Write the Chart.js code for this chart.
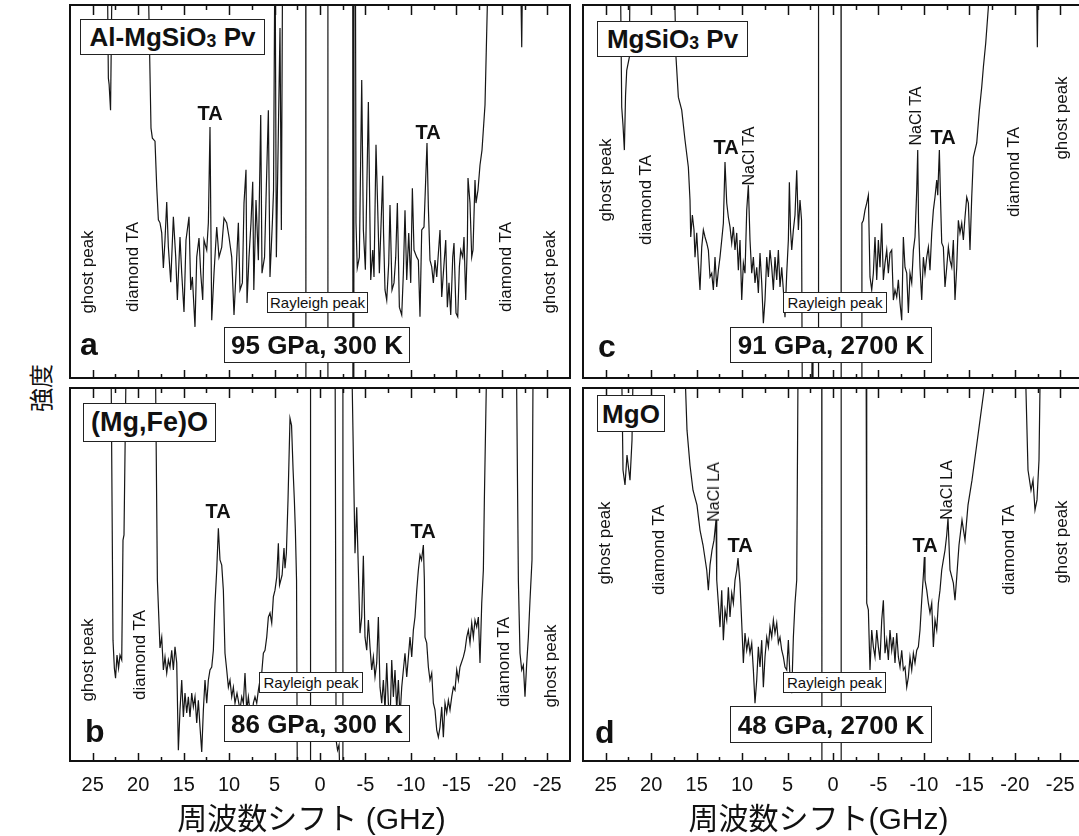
<!DOCTYPE html>
<html><head><meta charset="utf-8">
<script src="https://cdn.jsdelivr.net/npm/chart.js@4.4.1/dist/chart.umd.min.js"></script>
<style>
html,body{margin:0;padding:0;background:#fff;width:1079px;height:836px;overflow:hidden;position:relative;font-family:"Liberation Sans",Arial,sans-serif;color:#111}
canvas{position:absolute}
.box{position:absolute;background:#fff;border:1.5px solid #222;box-sizing:border-box;display:flex;align-items:center;justify-content:center;white-space:nowrap;font-weight:bold;font-size:26px;line-height:1}
.box sub{font-size:0.68em;vertical-align:-0.06em;line-height:0}
.ray{font-weight:normal;font-size:15px;border:1px solid #222}
.rot{position:absolute;white-space:nowrap;transform:translate(-50%,-50%) rotate(-90deg);font-size:17px;line-height:1}
.ta{position:absolute;transform:translate(-50%,-50%);font-weight:bold;font-size:20px;line-height:1;white-space:nowrap}
.let{position:absolute;font-weight:bold;font-size:32px;line-height:1}
.ytitle{position:absolute;left:40px;top:388px;transform:translate(-50%,-50%) rotate(-90deg);font-family:"Noto Sans CJK JP",sans-serif;font-size:24px;line-height:1;white-space:nowrap}
</style></head>
<body>
<canvas id="ca" width="520" height="385" style="left:60px;top:0"></canvas>
<canvas id="cc" width="520" height="385" style="left:573px;top:0"></canvas>
<canvas id="cb" width="520" height="453" style="left:60px;top:383px"></canvas>
<canvas id="cd" width="520" height="453" style="left:573px;top:383px"></canvas>

<div class="ytitle">強度</div>

<!-- panel a -->
<div class="box" style="left:80px;top:19px;width:185px;height:36px"><span>Al-MgSiO<sub>3</sub> Pv</span></div>
<div class="box ray" style="left:267px;top:292px;width:101px;height:21px">Rayleigh peak</div>
<div class="box" style="left:224px;top:327px;width:186px;height:36px">95 GPa, 300 K</div>
<div class="let" style="left:80px;top:328px">a</div>
<div class="ta" style="left:210px;top:113px">TA</div>
<div class="ta" style="left:428px;top:132px">TA</div>
<div class="rot" style="left:87px;top:272px">ghost peak</div>
<div class="rot" style="left:132px;top:267px">diamond TA</div>
<div class="rot" style="left:505px;top:267px">diamond TA</div>
<div class="rot" style="left:549px;top:272px">ghost peak</div>

<!-- panel b -->
<div class="box" style="left:83px;top:403px;width:133px;height:39px;font-size:27px">(Mg,Fe)O</div>
<div class="box ray" style="left:259px;top:672px;width:104px;height:21px">Rayleigh peak</div>
<div class="box" style="left:224px;top:705px;width:186px;height:37px">86 GPa, 300 K</div>
<div class="let" style="left:85px;top:715px">b</div>
<div class="ta" style="left:218px;top:511px">TA</div>
<div class="ta" style="left:423px;top:531px">TA</div>
<div class="rot" style="left:87px;top:660px">ghost peak</div>
<div class="rot" style="left:139px;top:655px">diamond TA</div>
<div class="rot" style="left:503px;top:662px">diamond TA</div>
<div class="rot" style="left:550px;top:666px">ghost peak</div>

<!-- panel c -->
<div class="box" style="left:597px;top:21px;width:151px;height:36px"><span>MgSiO<sub>3</sub> Pv</span></div>
<div class="box ray" style="left:783px;top:292px;width:104px;height:21px">Rayleigh peak</div>
<div class="box" style="left:730px;top:327px;width:202px;height:36px">91 GPa, 2700 K</div>
<div class="let" style="left:598px;top:330px">c</div>
<div class="ta" style="left:726px;top:147px">TA</div>
<div class="ta" style="left:943px;top:137px">TA</div>
<div class="rot" style="left:749px;top:156px;font-size:16px">NaCl TA</div>
<div class="rot" style="left:916px;top:116px;font-size:16px">NaCl TA</div>
<div class="rot" style="left:605px;top:180px">ghost peak</div>
<div class="rot" style="left:645px;top:200px">diamond TA</div>
<div class="rot" style="left:1013px;top:172px">diamond TA</div>
<div class="rot" style="left:1061px;top:118px">ghost peak</div>

<!-- panel d -->
<div class="box" style="left:597px;top:395px;width:68px;height:37px">MgO</div>
<div class="box ray" style="left:783px;top:672px;width:103px;height:21px">Rayleigh peak</div>
<div class="box" style="left:730px;top:706px;width:202px;height:37px">48 GPa, 2700 K</div>
<div class="let" style="left:595px;top:716px">d</div>
<div class="ta" style="left:740px;top:545px">TA</div>
<div class="ta" style="left:925px;top:545px">TA</div>
<div class="rot" style="left:714px;top:492px;font-size:16px">NaCl LA</div>
<div class="rot" style="left:947px;top:490px;font-size:16px">NaCl LA</div>
<div class="rot" style="left:604px;top:543px">ghost peak</div>
<div class="rot" style="left:658px;top:550px">diamond TA</div>
<div class="rot" style="left:1008px;top:550px">diamond TA</div>
<div class="rot" style="left:1061px;top:542px">ghost peak</div>

<script>
// ---------- axis ticks ----------
const xTickLabels = [25, 20, 15, 10, 5, 0, -5, -10, -15, -20, -25];
const xMinorTicks = [22.5, 17.5, 12.5, 7.5, 2.5, -2.5, -7.5, -12.5, -17.5, -22.5];
const xRange = [-27.5, 27.5];
const titleLeft = "周波数シフト (GHz)";
const titleRight = "周波数シフト(GHz)";

// ---------- panel a : Al-MgSiO3 Pv, 95 GPa 300 K ----------
const aFreq = [27.5,23.43,23.28,23.2,23.04,22.82,18.99,18.59,18.44,18.15,17.96,17.78,17.6,17.41,17.23,17.05,16.86,16.68,16.42,16.13,15.87,15.69,15.4,15.21,14.96,14.74,14.41,14.22,14.04,13.75,13.56,13.31,13.12,12.9,12.76,12.46,12.28,12.1,11.91,11.66,11.36,11.11,10.81,10.56,10.26,10.01,9.71,9.46,9.24,8.98,8.8,8.54,8.36,8.14,8.03,7.81,7.59,7.4,7.28,7.04,6.78,6.52,6.38,6.1,5.94,5.68,5.5,5.24,5.11,4.95,4.8,4.4,4.25,4.1,1.57,1.55,-0.85,-0.87,-3.6,-3.62,-3.72,-3.74,-3.89,-3.96,-4.1,-4.33,-4.59,-4.77,-4.99,-5.32,-5.58,-5.8,-5.94,-6.16,-6.38,-6.53,-6.9,-6.99,-7.15,-7.34,-7.56,-7.7,-7.92,-8.14,-8.33,-8.51,-8.73,-8.99,-9.17,-9.35,-9.54,-9.76,-9.98,-10.16,-10.34,-10.64,-10.82,-11,-11.19,-11.44,-11.77,-11.92,-12.1,-12.29,-12.47,-12.65,-12.84,-13.2,-13.39,-13.57,-13.83,-14.01,-14.19,-14.38,-14.6,-14.74,-14.96,-15.15,-15.33,-15.48,-15.7,-15.84,-16.03,-16.21,-16.28,-16.5,-16.69,-16.83,-17.05,-17.16,-17.38,-17.6,-17.82,-18.15,-18.6,-22,-22.19,-22.33,-27.5];
const aInt = [120,120,80.4,78.8,71.8,120,120,67,64.3,63.5,51.2,42.4,41.6,38.9,29.5,37,47.2,35.1,25.7,43.2,32.4,20.9,37.8,28.1,17.7,37,43.2,23.6,27.1,13.7,32.4,37.5,28.1,20.9,37,34.3,41.6,67.3,15.5,28.1,40.5,32.4,35.1,42.9,41.6,37.8,32.4,16.9,28.1,41.6,23.6,25.5,46.9,55.8,20.1,32.4,41.6,52.6,23.6,47.7,31.6,70.5,28.1,32.4,47.7,71.8,27.1,41.6,50.4,120,32.4,93.8,39.7,120,120,-10,-10,120,120,-10,-10,120,120,41.6,29.5,32.4,79.9,39.7,29,74,26.3,34.3,27.1,62.5,42.4,28.1,54.2,38.9,23.6,20.9,30.8,46.4,23.6,25.5,32.4,46.9,19,16.9,28.1,45,26.3,38.9,25.5,50.9,34.3,32.4,31.6,16.4,39.7,40.5,63,45.8,31.6,29.8,25.5,31.6,27.1,39.7,21.7,28.1,37,19,25.5,16.9,32.4,36.2,17.4,16.4,29.8,34.3,32.4,37.8,20.9,36.2,53.6,46.9,32.4,34.3,53.1,46.9,50.4,57.1,61.1,73.2,120,120,88.7,120,120];

// ---------- panel b : (Mg,Fe)O, 86 GPa 300 K ----------
const bFreq = [27.5,23.02,22.77,22.62,22.49,22.33,22.16,22,21.81,21.67,21.56,21.26,18.15,17.89,17.6,17.41,17.23,17.05,16.86,16.68,16.5,16.31,16.13,15.95,15.76,15.58,15.4,15.21,15.03,14.85,14.66,14.48,14.3,14.11,13.93,13.75,13.56,13.38,13.2,13.01,12.83,12.65,12.46,12.28,12.1,11.91,11.73,11.55,11.36,11.18,11,10.81,10.63,10.45,10.26,10.08,9.9,9.71,9.53,9.35,9.13,8.8,8.61,8.43,8.25,8.06,7.88,7.51,7.33,7.15,6.96,6.78,6.6,6.41,6.23,6.05,5.86,5.68,5.5,5.31,5.13,4.95,4.76,4.58,4.45,4.17,3.96,3.85,3.7,3.52,3.3,3.13,2.96,2.82,2.71,2.58,2.49,1.06,1.04,-1.65,-1.77,-1.93,-2.09,-2.26,-2.5,-2.52,-3.41,-3.85,-4.04,-4.22,-4.4,-4.59,-4.77,-4.95,-5.14,-5.32,-5.5,-5.69,-5.87,-6.05,-6.24,-6.42,-6.6,-6.79,-6.97,-7.15,-7.34,-7.52,-7.7,-7.89,-8.07,-8.25,-8.44,-8.62,-8.8,-8.99,-9.17,-9.35,-9.54,-9.72,-9.9,-10.09,-10.27,-10.45,-10.64,-10.82,-11,-11.17,-11.37,-11.48,-11.55,-11.74,-11.92,-12.1,-12.29,-12.47,-12.65,-12.84,-13.02,-13.2,-13.39,-13.57,-13.75,-13.94,-14.12,-14.3,-14.49,-14.67,-14.85,-15.04,-15.22,-15.4,-15.77,-15.95,-16.14,-16.32,-16.5,-16.69,-16.87,-17.05,-17.24,-17.42,-17.6,-17.79,-17.97,-18.08,-18.43,-21.56,-21.82,-22,-22.19,-22.37,-22.55,-22.74,-22.92,-23.1,-23.32,-23.47,-27.5];
const bInt = [120,120,32.4,24.9,22.2,28.4,24.9,28.4,27.1,59.2,60.6,120,120,48.5,30.3,33.2,24.4,27.9,23.6,27.1,25.2,29.7,24.4,30.6,26.3,2.9,13.7,21.7,11.8,18.2,12.9,17.2,11.8,18.2,14.5,17.2,10.2,16.3,9.1,2.4,13.7,21.7,15.5,21.7,24.4,25.2,29.7,42.3,51.2,62.4,53.9,52.5,45.8,28.9,24.4,19.8,21.7,17.2,19.8,15.5,18.2,13.7,17.2,15.5,23.6,13.7,17.2,9.1,15.5,17.2,15.5,19,21.7,23.6,28.9,29.7,33.2,38.6,39.7,37,44,45.8,49.3,58.4,47.2,49.8,57.1,51.7,55.7,69.9,91.9,90,78,69.9,61.9,48.5,-10,-10,120,120,5.6,2.9,4.3,-10,-10,120,120,55.7,68,51.2,34.3,38.6,55,33.2,29.7,37.8,30.6,24.4,27.9,22.5,26.3,38.6,19.8,15.5,21.7,13.7,26.3,15.5,10.2,27.1,17.2,24.4,13.7,21.7,11.8,19.8,24.4,28.9,22.5,27.9,33.2,27.9,35.1,38.6,45.8,51.2,55.2,53.9,57.9,48.5,33.2,31.6,25.2,21.7,23.6,15.5,13.7,8.3,6.4,9.1,14.5,6.4,15.5,12.9,16.3,13.7,17.2,19.8,19,24.4,21.7,25.2,27.9,29.7,33.2,35.1,31.6,37,33.2,37.8,35.9,38.6,26.3,42.3,51.2,70,120,120,48.5,28.9,24.4,25.7,17.2,26.3,33.2,43.1,53.9,120,120];

// ---------- panel c : MgSiO3 Pv, 91 GPa 2700 K ----------
const cFreq = [27.5,23.43,23.24,23.1,22.95,22.82,22.69,22.4,22.29,17.56,17.27,17.01,16.64,16.28,15.91,15.73,15.65,15.47,15.29,15.18,14.99,14.81,14.63,14.44,14.26,14.08,13.89,13.71,13.53,13.34,13.16,12.98,12.79,12.61,12.43,12.24,12.06,11.88,11.69,11.51,11.33,11.14,10.96,10.78,10.59,10.41,10.23,10.04,9.86,9.68,9.49,9.31,9.13,8.94,8.76,8.58,8.39,8.21,8.03,7.84,7.66,7.48,7.29,7.11,6.93,6.74,6.56,6.38,6.19,6.01,5.83,5.64,5.46,5.28,5.09,4.91,4.8,4.67,4.54,4.36,4.18,3.99,3.81,3.63,3.46,3.37,2.36,2.31,2.2,1.61,1.59,-0.88,-0.9,-3.16,-3.18,-3.34,-3.52,-3.71,-3.89,-4.07,-4.26,-4.44,-4.62,-4.81,-4.99,-5.17,-5.36,-5.54,-5.72,-5.91,-6.09,-6.27,-6.46,-6.64,-6.82,-7.01,-7.19,-7.37,-7.56,-7.74,-7.92,-8.11,-8.29,-8.47,-8.66,-8.84,-9.02,-9.21,-9.32,-9.41,-9.57,-9.76,-9.94,-10.12,-10.31,-10.49,-10.67,-10.86,-11.04,-11.22,-11.41,-11.52,-11.7,-11.83,-11.96,-12.14,-12.32,-12.51,-12.69,-12.87,-13.06,-13.24,-13.42,-13.61,-13.79,-13.97,-14.16,-14.34,-14.52,-14.71,-14.89,-15.07,-15.26,-15.44,-15.81,-16.1,-16.36,-16.54,-16.8,-17.09,-17.27,-22.33,-22.48,-22.61,-27.5];
const cInt = [120,120,72.6,67.8,61.1,75.8,82.5,86,120,120,86,75.3,71.8,63.8,56.5,47.7,37.8,43.7,39.7,32.4,38.9,30.8,23.6,35.1,39.7,37.8,36.2,34.3,27.1,28.1,23.6,32.4,24.4,28.9,32.4,37,41.5,57.9,46.9,43.1,40.5,36.2,40.5,34.3,38.9,28.9,37,20.9,30.8,28.1,45,51.7,37,28.1,32.4,25.5,29.7,22.8,33.5,25.5,14.7,20.9,32.4,27.1,34.3,29.7,23.6,32.4,26.3,34.3,24.4,29.7,23.6,16.3,28.1,37,52.5,39.7,34.3,39.7,43.7,55.7,39.7,47.7,42.3,-10,-10,4.3,-10,-10,120,120,-10,-10,41.5,42.3,45,46.9,49,27.1,23.6,28.1,37.8,26.3,37,29.7,41.5,26.3,30.8,34.3,28.1,33.5,34.3,20.9,23.6,21.7,26.3,20.1,15.5,37.8,29.7,28.1,17.4,28.1,25.5,34.3,37.8,50.4,61.1,41.5,29.7,20.9,32.4,28.1,32.4,35.1,28.9,38.9,45,48.5,53.1,49,61.1,47.7,36.2,35.1,24.4,29.7,35.1,31.6,29.7,37,20.9,29.7,42.3,38.9,41.5,37,43.1,48.5,46.9,34.3,48.5,59.2,63,71.8,78,83.3,89.8,99.4,120,120,88.7,120,120];

// ---------- panel d : MgO, 48 GPa 2700 K ----------
const dFreq = [27.5,23.32,23.1,22.88,22.66,22.33,22.11,21.89,16.5,16.06,15.73,15.4,14.96,14.63,14.3,13.89,13.71,13.53,13.31,13.09,12.87,12.79,12.61,12.43,12.24,12.06,11.88,11.69,11.51,11.33,11.14,10.96,10.78,10.59,10.45,10.23,10.04,9.86,9.68,9.49,9.31,9.13,8.94,8.76,8.58,8.39,8.21,8.03,7.84,7.66,7.48,7.29,7.11,6.93,6.74,6.56,6.38,6.19,6.01,5.83,5.64,5.46,5.28,5.09,4.91,4.73,4.54,4.36,4.18,3.99,3.81,1.24,1.22,-0.88,-0.9,-3.63,-3.71,-3.89,-4.07,-4.26,-4.44,-4.62,-4.81,-4.99,-5.17,-5.36,-5.54,-5.72,-5.91,-6.09,-6.27,-6.46,-6.64,-6.82,-7.01,-7.19,-7.37,-7.56,-7.74,-7.92,-8.11,-8.29,-8.47,-8.66,-8.84,-9.02,-9.21,-9.39,-9.57,-9.76,-9.94,-10.05,-10.12,-10.31,-10.49,-10.67,-10.86,-11.04,-11.22,-11.41,-11.59,-11.77,-11.96,-12.14,-12.32,-12.51,-12.65,-12.87,-13.24,-13.42,-13.61,-13.86,-14.19,-14.52,-14.85,-15.29,-15.73,-16.17,-16.61,-16.83,-21.01,-21.45,-21.78,-22,-22.22,-22.44,-22.66,-22.88,-27.5];
const dInt = [120,120,78,74,82,75.3,86,120,120,88.7,79.3,72.6,68.6,61.9,57.9,51.2,45.8,52.5,56.5,59.2,64.6,48.5,42.3,35.9,45.8,32.4,40.5,37.8,46.6,38.6,45,42.3,48.5,51.2,54.4,47.7,37,26.3,34.3,29.7,32.4,28.9,31.6,24.4,15.5,21.7,30.6,25.2,32.4,19.8,27.9,33.2,30.6,35.9,33.2,37.8,34.3,37,31.6,33.2,29.7,27.9,25.2,24.4,32.4,22.5,18.2,33.2,42.3,48.5,120,120,-10,-10,120,120,42.3,40.5,24.4,35.1,30.6,27.9,35.1,30.6,27.1,37.8,43.1,28.9,32.4,27.1,35.1,29.7,33.2,26.3,34.3,27.9,25.2,29.7,24.4,25.2,19.8,22.5,27.9,24.4,28.9,26.3,29.7,30.6,35.1,43.1,49.8,54.7,48.5,45.8,42.3,39.7,42.3,30.6,37.8,35.1,42.3,45.8,51.2,53.9,56.5,60.6,65.1,51.2,47.7,43.1,49.3,57.9,64.6,59.2,68.6,75.3,83.3,91.4,99.4,120,120,78,72.6,75.3,67.3,70,80.7,120,120];

// ---------- drawing ----------
const framePlugin = {
  id: 'frame',
  afterDraw(chart, args, opts) {
    const ctx = chart.ctx;
    const {left, right, top, bottom} = chart.chartArea;
    const x = chart.scales.x;
    ctx.save();
    ctx.strokeStyle = '#111';
    ctx.lineWidth = 1.5;
    ctx.beginPath();
    xTickLabels.forEach(t => {
      const p = Math.round(x.getPixelForValue(t)) + 0.5;
      ctx.moveTo(p, bottom); ctx.lineTo(p, bottom - 8);
      ctx.moveTo(p, top); ctx.lineTo(p, top + 10);
    });
    xMinorTicks.forEach(t => {
      const p = Math.round(x.getPixelForValue(t)) + 0.5;
      ctx.moveTo(p, bottom); ctx.lineTo(p, bottom - 4);
      ctx.moveTo(p, top); ctx.lineTo(p, top + 5);
    });
    ctx.stroke();
    ctx.lineWidth = 2;
    ctx.strokeRect(left, top, right - left, bottom - top);
    if (opts && opts.labels) {
      ctx.fillStyle = '#111';
      ctx.textAlign = 'center';
      ctx.textBaseline = 'alphabetic';
      ctx.font = '20px "Liberation Sans", Arial, sans-serif';
      xTickLabels.forEach(t => ctx.fillText(String(t), x.getPixelForValue(t), bottom + 30));
      ctx.font = '30px "Liberation Sans", "Noto Sans CJK JP", sans-serif';
      ctx.fillText(opts.title, opts.titleX, bottom + 68);
    }
    ctx.restore();
  }
};

function makeChart(id, freq, inten, frameOpts, bottomPad) {
  const pts = freq.map((f, i) => ({x: f, y: inten[i]}));
  return new Chart(document.getElementById(id), {
    type: 'line',
    data: {datasets: [{data: pts, borderColor: '#161616', borderWidth: 1.2, pointRadius: 0, tension: 0, fill: false}]},
    options: {
      responsive: false, animation: false, devicePixelRatio: 1, events: [],
      layout: {padding: {left: 10, right: 10, top: 5, bottom: bottomPad}},
      plugins: {legend: {display: false}, tooltip: {enabled: false}, frame: frameOpts},
      scales: {
        x: {type: 'linear', min: xRange[0], max: xRange[1], reverse: true, display: false},
        y: {type: 'linear', min: 0, max: 100, display: false}
      }
    },
    plugins: [framePlugin]
  });
}

makeChart('ca', aFreq, aInt, {labels: false}, 7);
makeChart('cc', cFreq, cInt, {labels: false}, 7);
makeChart('cb', bFreq, bInt, {labels: true, title: titleLeft, titleX: 251.5}, 75);
makeChart('cd', dFreq, dInt, {labels: true, title: titleRight, titleX: 245.5}, 75);
</script>
</body></html>
